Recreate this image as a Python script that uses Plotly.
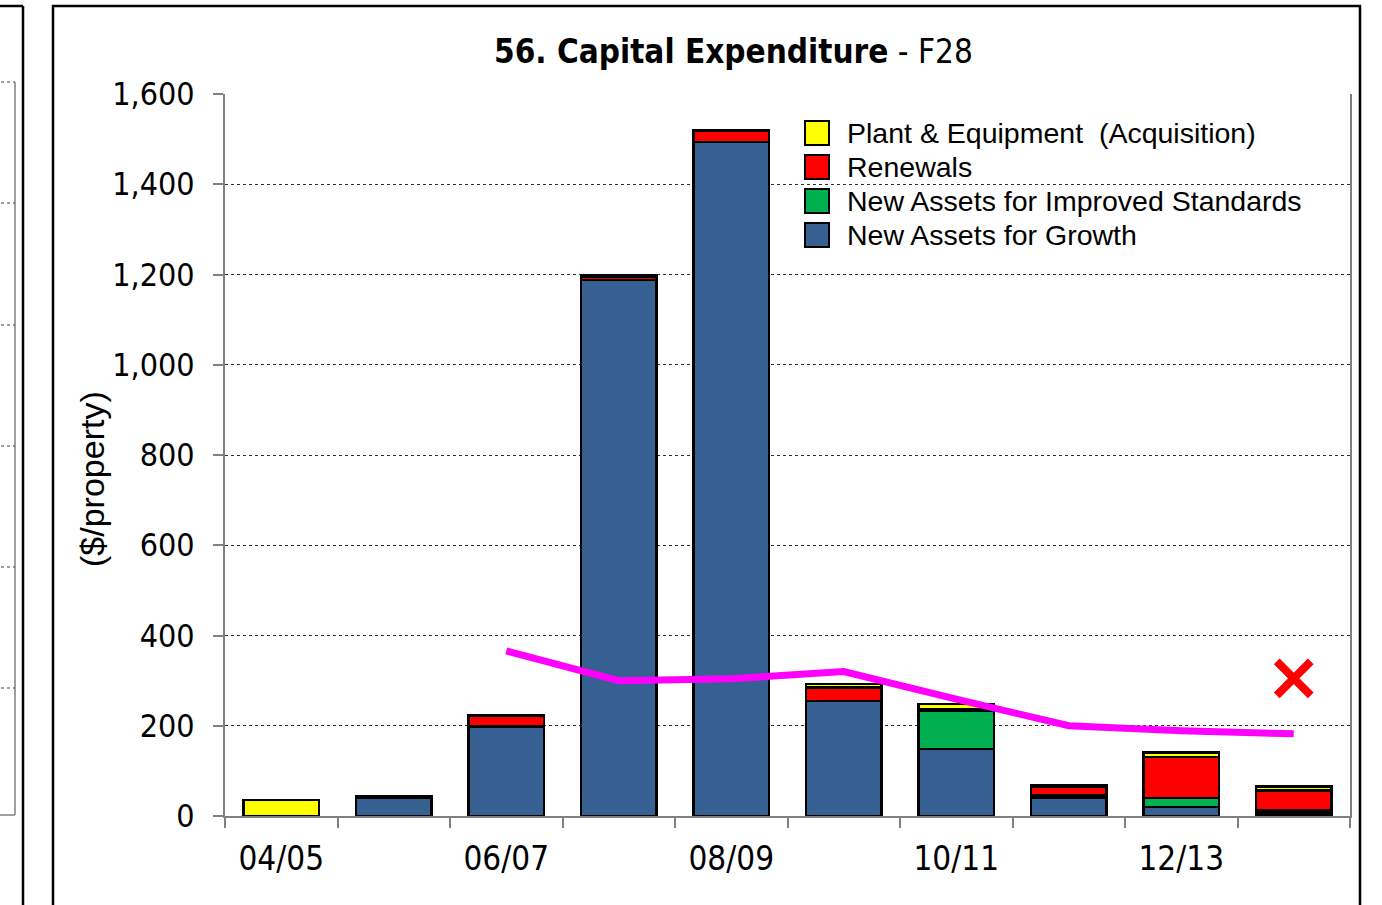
import plotly.graph_objects as go

categories = ["04/05", "05/06", "06/07", "07/08", "08/09", "09/10", "10/11", "11/12", "12/13", "13/14"]
growth   = [0, 40, 198, 1188, 1494, 255, 149, 40, 20, 5]
improved = [0, 0, 0, 0, 0, 0, 85, 5, 20, 7]
renewals = [0, 2, 25, 8, 24, 30, 2, 20, 91, 45]
plant    = [35, 1, 1, 2, 2, 7, 12, 3, 10, 8]
benchmark = [None, None, 366, 300, 304, 320, 259, 200, 189, 182]
marker_cat = ["13/14"]
marker_val = [305]

series_names = ["New Assets for Growth", "New Assets for Improved Standards", "Renewals", "Plant & Equipment  (Acquisition)"]
series_colors = ["#376092", "#00B050", "#FF0000", "#FFFF00"]
series_values = [growth, improved, renewals, plant]
tick_text = [c if i % 2 == 0 else "" for i, c in enumerate(categories)]

W, H = 1382, 905
L, R, T, B = 225, 32, 94, 89
pw, ph = W - L - R, H - T - B

def px(x):
    return (x - L) / pw

def py(y):
    return (H - B - y) / ph

NARROW = "DejaVu Sans Condensed, Liberation Sans Narrow, Arial Narrow, sans-serif"
REG = "Liberation Sans, Arial, sans-serif"

fig = go.Figure()
for name, col, vals in zip(series_names, series_colors, series_values):
    fig.add_trace(go.Bar(x=categories, y=vals, name=name, marker=dict(color=col, line=dict(color="black", width=2.5)), showlegend=False))

fig.add_trace(go.Scatter(x=categories, y=benchmark, mode="lines", line=dict(color="#FF00FF", width=7), showlegend=False, connectgaps=False))
fig.add_trace(go.Scatter(x=marker_cat, y=marker_val, mode="markers", marker=dict(symbol="x-thin", size=34, line=dict(color="#FF0000", width=8)), showlegend=False))

shapes = []
annotations = []
# manual legend (top-down order)
leg_y = [133, 167, 201, 235]
for i, idx in enumerate([3, 2, 1, 0]):
    yc = leg_y[i]
    shapes.append(dict(type="rect", xref="paper", yref="paper", x0=px(805), x1=px(829), y0=py(yc + 12), y1=py(yc - 12),
                       fillcolor=series_colors[idx], line=dict(color="black", width=2)))
    annotations.append(dict(xref="paper", yref="paper", x=px(845), y=py(yc), text=series_names[idx], showarrow=False,
                            xanchor="left", yanchor="middle", font=dict(family=REG, size=28.5, color="black")))

# main frame
shapes.append(dict(type="rect", xref="paper", yref="paper", x0=px(53), x1=px(1360), y0=py(960), y1=py(6), line=dict(color="black", width=2.5), layer="below"))
# neighbour chart fragment on the left
shapes.append(dict(type="line", xref="paper", yref="paper", x0=px(23), x1=px(23), y0=py(6), y1=py(960), line=dict(color="black", width=2.5)))
shapes.append(dict(type="line", xref="paper", yref="paper", x0=px(-5), x1=px(23), y0=py(6), y1=py(6), line=dict(color="black", width=2.5)))
shapes.append(dict(type="line", xref="paper", yref="paper", x0=px(15), x1=px(15), y0=py(82), y1=py(815), line=dict(color="#808080", width=1.5)))
for gy in [82, 203, 325, 446, 567, 688]:
    shapes.append(dict(type="line", xref="paper", yref="paper", x0=px(-5), x1=px(15), y0=py(gy), y1=py(gy), line=dict(color="#404040", width=1, dash="dot")))
shapes.append(dict(type="line", xref="paper", yref="paper", x0=px(-5), x1=px(15), y0=py(815), y1=py(815), line=dict(color="#808080", width=1.5)))

annotations.append(dict(xref="paper", yref="paper", x=px(733), y=py(52), text="<b>56. Capital Expenditure</b> - F28", showarrow=False,
                        xanchor="center", yanchor="middle", font=dict(family=NARROW, size=33, color="black")))
annotations.append(dict(xref="paper", yref="paper", x=px(92), y=py(479), text="($/property)", textangle=-90, showarrow=False,
                        xanchor="center", yanchor="middle", font=dict(family=REG, size=34, color="black")))

fig.update_layout(
    width=W, height=H,
    margin=dict(l=L, r=R, t=T, b=B, pad=0),
    barmode="stack", bargap=0.33,
    plot_bgcolor="white", paper_bgcolor="white",
    shapes=shapes, annotations=annotations,
    showlegend=False,
    xaxis=dict(type="category", range=[-0.5, len(categories) - 0.5], tickmode="array", tickvals=categories, ticktext=tick_text,
               tickson="boundaries", ticks="outside", ticklen=10, tickcolor="#808080", tickwidth=1.5, ticklabelstandoff=12,
               showline=True, linecolor="#808080", linewidth=2, showgrid=False,
               tickfont=dict(family=NARROW, size=33, color="black")),
    yaxis=dict(range=[0, 1600], dtick=200, tickformat=",", ticks="outside", ticklen=10, tickcolor="#808080", tickwidth=1.5,
               ticklabelstandoff=12,
               showline=True, linecolor="#808080", linewidth=2, mirror=True,
               showgrid=True, gridcolor="#303030", gridwidth=1, griddash="dot", zeroline=False,
               tickfont=dict(family=NARROW, size=32, color="black")),
)

fig.write_html("out.html", config={"displayModeBar": False}, post_script="document.body.style.margin='0';")
